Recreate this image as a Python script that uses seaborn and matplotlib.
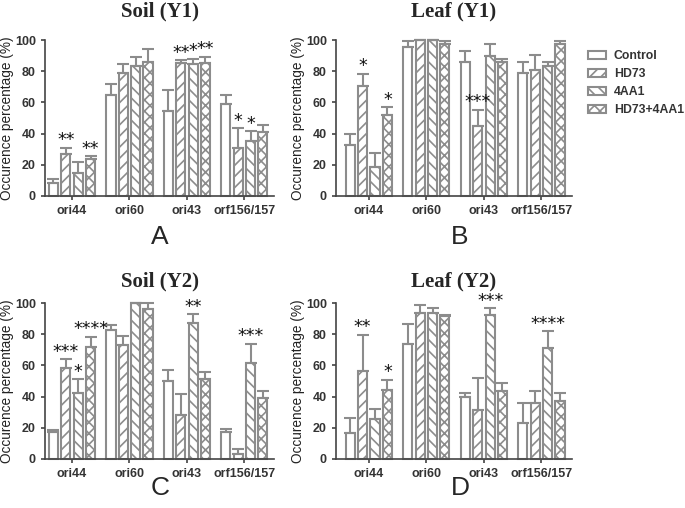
import numpy as np
import pandas as pd
import seaborn as sns
import matplotlib
matplotlib.use('Agg')
import matplotlib.pyplot as plt
from matplotlib.patches import Patch

# categories
genes = ['ori44', 'ori60', 'ori43', 'orf156/157']
groups = ['Control', 'HD73', '4AA1', 'HD73+4AA1']

# means (one row per group, one column per gene)
soil_y1_mean = [[8.5, 65, 54.5, 59], [27, 78.6, 85.5, 31], [14.5, 83.3, 84.4, 35], [24, 86, 85.5, 41]]
soil_y1_err = [[2.2, 7, 13.5, 6], [4, 5.8, 1.5, 12.6], [7, 5.7, 3.6, 6.5], [1.4, 8, 3.8, 4.5]]
leaf_y1_mean = [[32.6, 95.5, 85.8, 78.6], [70.8, 100, 44.6, 80.7], [18.5, 100, 90, 83.3], [51.7, 97.2, 85.8, 97.2]]
leaf_y1_err = [[7.4, 4, 7.2, 7.4], [7.7, 0, 10.8, 9.7], [9, 0, 7.2, 2.7], [5.3, 2.4, 2.2, 2.2]]
soil_y2_mean = [[17.3, 83, 50, 17.3], [58.5, 73.3, 28, 3.2], [42, 100, 87, 61.8], [71.6, 96.4, 51, 39]]
soil_y2_err = [[1.3, 2.7, 6.8, 1.9], [5.5, 5.7, 13.7, 3.4], [9.3, 0, 6, 12.2], [6.8, 3.4, 4.6, 4.6]]
leaf_y2_mean = [[16.9, 73.5, 39.5, 23.3], [56.2, 93.6, 31.4, 36], [25.4, 93.6, 92, 71.4], [44, 91.5, 43.6, 37.2]]
leaf_y2_err = [[9.4, 13, 2.5, 12.4], [23.5, 5.4, 20.3, 7.6], [6.4, 3.4, 4.8, 10.6], [6.9, 0.5, 5.4, 4.8]]

# significance marks: (gene index, group index, label)
soil_y1_stars = [(0, 1, '**'), (0, 3, '**'), (2, 1, '**'), (2, 2, '*'), (2, 3, '**'), (3, 1, '*'), (3, 2, '*')]
leaf_y1_stars = [(0, 1, '*'), (0, 3, '*'), (2, 1, '***')]
soil_y2_stars = [(0, 1, '***'), (0, 2, '*'), (0, 3, '****'), (2, 2, '**'), (3, 2, '***')]
leaf_y2_stars = [(0, 1, '**'), (0, 3, '*'), (2, 2, '***'), (3, 2, '****')]

GRAY = '#8c8c8c'
DARK = '#333333'
hatches = ['', '///', '\\\\\\', 'xxx']

sns.set_style('ticks')
plt.rcParams['font.family'] = ['Liberation Sans', 'DejaVu Sans']
plt.rcParams['hatch.linewidth'] = 1.2
plt.rcParams['hatch.color'] = GRAY


def draw_panel(ax, means, errs, stars, title, xlim, title_pad):
    rows = []
    for g, grp in enumerate(groups):
        for k, gene in enumerate(genes):
            rows.append({'gene': gene, 'group': grp, 'value': means[g][k]})
    df = pd.DataFrame(rows)
    sns.barplot(data=df, x='gene', y='value', hue='group', order=genes,
                hue_order=groups, palette=['white'] * 4, edgecolor=GRAY,
                linewidth=1.5, width=0.86, gap=0.26, errorbar=None,
                legend=False, ax=ax)
    bar_sets = list(ax.containers)
    centers = []
    for g, cont in enumerate(bar_sets):
        xs = []
        for bar in cont:
            bar.set_hatch(hatches[g])
            bar.set_clip_on(False)
            xs.append(bar.get_x() + bar.get_width() / 2)
        centers.append(xs)
        eb = ax.errorbar(xs, means[g], yerr=[np.zeros(4), errs[g]], fmt='none',
                         ecolor=GRAY, elinewidth=1.5, capsize=4, capthick=1.5)
        for art in list(eb.lines[1]) + list(eb.lines[2]):
            art.set_clip_on(False)

    # significance stars just above the error bar
    for k, g, label in stars:
        y = means[g][k] + errs[g][k] + 1.5
        ax.text(centers[g][k], y, label, ha='center', va='baseline',
                fontsize=12.5, family='DejaVu Sans', color='#111111', clip_on=False)

    ax.set_ylim(0, 100)
    ax.set_yticks([0, 20, 40, 60, 80, 100])
    ax.set_xlim(xlim)
    ax.set_xlabel('')
    ax.set_ylabel('Occurence percentage (%)', fontsize=9.8, labelpad=1, color='#222222')
    ax.tick_params(labelsize=9, width=1.1, length=3, colors=DARK)
    for lbl in ax.get_xticklabels() + ax.get_yticklabels():
        lbl.set_fontweight('bold')
    sns.despine(ax=ax)
    for side in ['left', 'bottom']:
        ax.spines[side].set_linewidth(1.2)
        ax.spines[side].set_color('#444444')
    ax.set_title(title, fontsize=15, fontweight='bold', family='Liberation Serif', pad=title_pad)


fig = plt.figure(figsize=(6.85, 5.08), dpi=100)
ax_a = fig.add_axes([0.0657, 0.6142, 0.3347, 0.307])
ax_b = fig.add_axes([0.4905, 0.6142, 0.3445, 0.307])
ax_c = fig.add_axes([0.0657, 0.0965, 0.3347, 0.307])
ax_d = fig.add_axes([0.4905, 0.0965, 0.3445, 0.307])

draw_panel(ax_a, soil_y1_mean, soil_y1_err, soil_y1_stars, 'Soil (Y1)', (-0.47, 3.52), 17)
draw_panel(ax_b, leaf_y1_mean, leaf_y1_err, leaf_y1_stars, 'Leaf (Y1)', (-0.57, 3.53), 17)
draw_panel(ax_c, soil_y2_mean, soil_y2_err, soil_y2_stars, 'Soil (Y2)', (-0.47, 3.52), 12)
draw_panel(ax_d, leaf_y2_mean, leaf_y2_err, leaf_y2_stars, 'Leaf (Y2)', (-0.57, 3.53), 12)

for letter, x, y in [('A', 0.2336, 0.5335), ('B', 0.6715, 0.5335),
                     ('C', 0.2336, 0.039), ('D', 0.6715, 0.039)]:
    fig.text(x, y, letter, fontsize=19, ha='center', va='center')

handles = [Patch(facecolor='white', edgecolor=GRAY, hatch=h, linewidth=1.5) for h in hatches]
fig.legend(handles, groups, loc='upper left', bbox_to_anchor=(588 / 685, 1 - 50 / 508),
           frameon=False, prop={'weight': 'bold', 'size': 8.8}, labelcolor=DARK,
           handlelength=1.5, handleheight=0.65, handletextpad=0.6,
           labelspacing=0.5, borderpad=0, borderaxespad=0)

fig.savefig('out.png', dpi=100)
